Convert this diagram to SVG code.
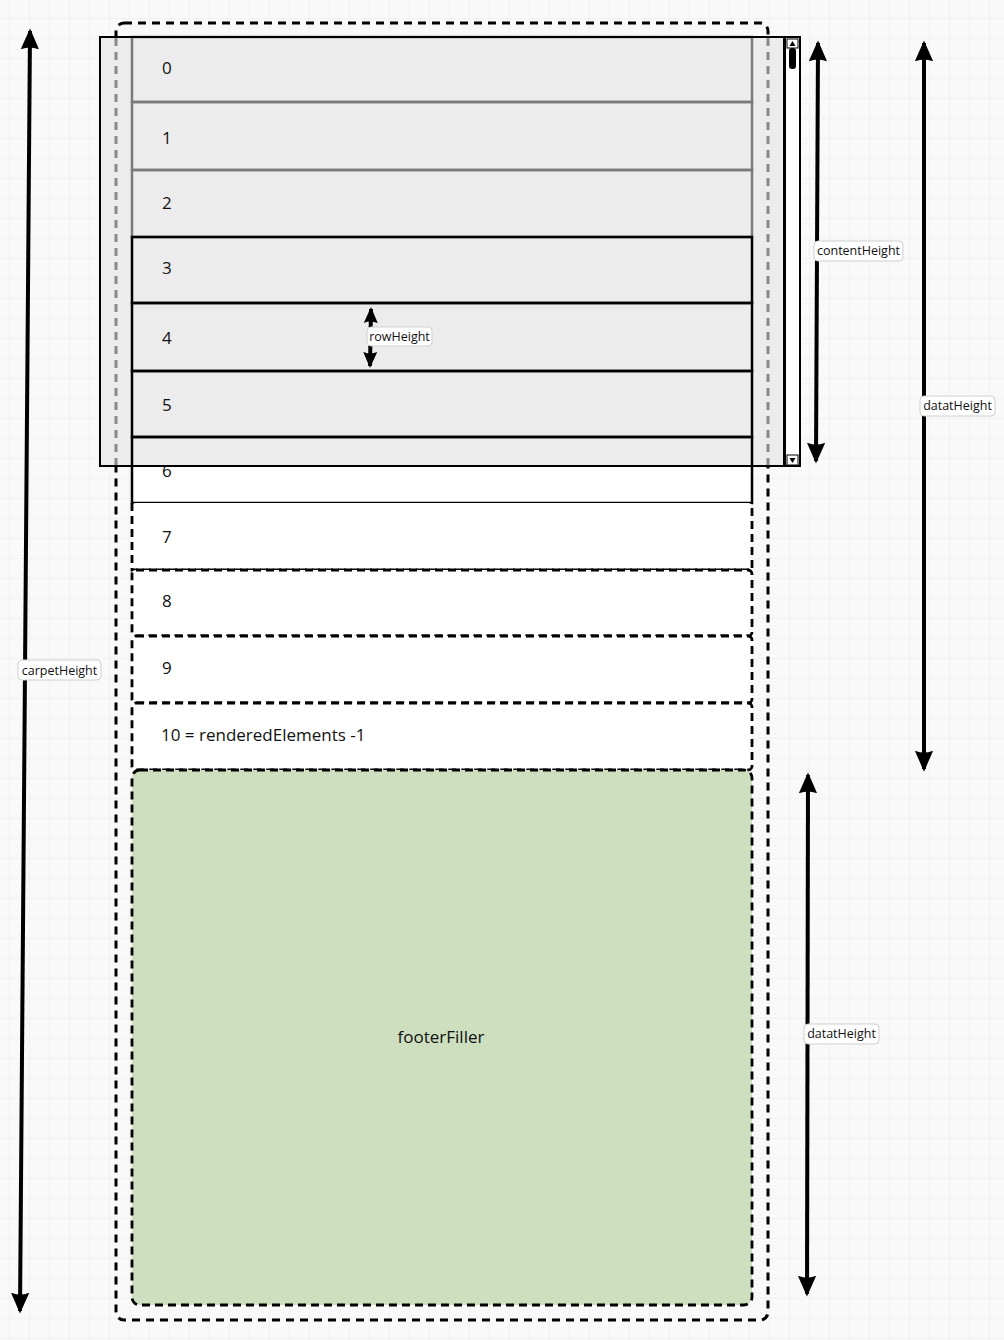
<svg xmlns="http://www.w3.org/2000/svg" width="1004" height="1340" viewBox="0 0 1004 1340">
<defs>
<pattern id="grid" x="9" y="18" width="20" height="20" patternUnits="userSpaceOnUse">
<path d="M0,0 H20 M0,0 V20" fill="none" stroke="#ececec" stroke-width="1.2"/>
</pattern>
<marker id="ah" viewBox="0 0 16 16" refX="14" refY="8" markerWidth="21" markerHeight="21" markerUnits="userSpaceOnUse" orient="auto-start-reverse">
<path d="M0,1 L16,8 L0,15 Q3,8 0,1 Z" fill="#000"/>
</marker>
<marker id="ahs" viewBox="0 0 16 16" refX="14" refY="8" markerWidth="16" markerHeight="16" markerUnits="userSpaceOnUse" orient="auto-start-reverse">
<path d="M0,1 L16,8 L0,15 Q3,8 0,1 Z" fill="#000"/>
</marker>
</defs>
<style>
.num{font-family:"Open Sans","Liberation Sans",sans-serif;font-size:17px;fill:#111}
.lbl{font-family:"Open Sans","Liberation Sans",sans-serif;font-size:12.5px;fill:#111}
.lbox{fill:#fff;stroke:#cfcfcf;stroke-width:1}
.rowg{fill:none;stroke:#7a7a7a;stroke-width:2.5}
.rowk{fill:none;stroke:#000;stroke-width:2.5}
.rowd{stroke:#000;stroke-width:2.8;stroke-dasharray:8 5}
.arr{stroke:#000;stroke-width:4;fill:none}
</style>
<rect width="1004" height="1340" fill="#f9f9f9"/>
<rect width="1004" height="1340" fill="url(#grid)"/>

<g id="carpet">
<rect x="116" y="23" width="652" height="1297" rx="8" fill="none" stroke="#000" stroke-width="3" stroke-dasharray="8 6"/>
</g>

<g id="viewport">
<rect x="100" y="37" width="684" height="429" fill="#ececec"/>
<line x1="116" y1="38" x2="116" y2="465" stroke="#8a8a8a" stroke-width="3" stroke-dasharray="8 6"/>
<line x1="768" y1="38" x2="768" y2="465" stroke="#8a8a8a" stroke-width="3" stroke-dasharray="8 6"/>
</g>

<g id="row0"><rect x="132" y="37" width="620" height="65" class="rowg"/><text x="162" y="74" class="num">0</text></g>
<g id="row1"><rect x="132" y="102" width="620" height="68" class="rowg"/><text x="162" y="144" class="num">1</text></g>
<g id="row2"><rect x="132" y="170" width="620" height="67" class="rowg"/><text x="162" y="209" class="num">2</text></g>
<g id="row3"><rect x="132" y="237" width="620" height="66" class="rowk"/><text x="162" y="274" class="num">3</text></g>
<g id="row4"><rect x="132" y="303" width="620" height="68" class="rowk"/><text x="162" y="344" class="num">4</text></g>
<g id="row5"><rect x="132" y="371" width="620" height="66" class="rowk"/><text x="162" y="411" class="num">5</text></g>
<g id="row6"><rect x="132" y="466" width="620" height="37" fill="#fff"/><rect x="132" y="437" width="620" height="66" class="rowk"/><text x="162" y="477" class="num">6</text></g>
<g id="row7"><rect x="132" y="503" width="620" height="67" rx="4" fill="#fff"/><path d="M132,503 V570 H752 V503" class="rowd" fill="none"/><text x="162" y="543" class="num">7</text></g>
<g id="row8"><rect x="132" y="570" width="620" height="66" rx="4" class="rowd" style="fill:#fff"/><text x="162" y="607" class="num">8</text></g>
<g id="row9"><rect x="132" y="636" width="620" height="67" rx="4" class="rowd" style="fill:#fff"/><text x="162" y="674" class="num">9</text></g>
<g id="row10"><rect x="132" y="703" width="620" height="67" rx="4" class="rowd" style="fill:#fff"/><text x="161" y="741" class="num">10 = renderedElements -1</text></g>
<g id="footerFiller"><rect x="132" y="770" width="620" height="535" rx="8" class="rowd" style="fill:#cddfbf"/><text x="441" y="1043" class="num" text-anchor="middle">footerFiller</text></g>

<g id="viewportBorder">
<rect x="100" y="37" width="684" height="429" fill="none" stroke="#000" stroke-width="2"/>
</g>

<g id="scrollbar">
<rect x="785" y="37" width="15" height="429" fill="#fff" stroke="#000" stroke-width="2"/>
<rect x="787" y="39" width="11" height="9" fill="#fff" stroke="#000" stroke-width="1"/>
<path d="M789.5,46 L792.5,41 L795.5,46 Z" fill="#000"/>
<rect x="789" y="48" width="7" height="21" rx="3" fill="#000"/>
<rect x="787" y="455" width="11" height="10" fill="#fff" stroke="#000" stroke-width="1"/>
<path d="M789.5,458 L795.5,458 L792.5,463 Z" fill="#000"/>
</g>

<g id="connectors">
<line x1="30" y1="31" x2="20" y2="1311" class="arr" marker-start="url(#ah)" marker-end="url(#ah)"/>
<line x1="818" y1="43" x2="816" y2="461" class="arr" marker-start="url(#ah)" marker-end="url(#ah)"/>
<line x1="924" y1="43" x2="924" y2="769" class="arr" marker-start="url(#ah)" marker-end="url(#ah)"/>
<line x1="808" y1="775" x2="807" y2="1294" class="arr" marker-start="url(#ah)" marker-end="url(#ah)"/>
<line x1="371" y1="309" x2="370" y2="366" class="arr" stroke-width="3.5" marker-start="url(#ahs)" marker-end="url(#ahs)"/>
</g>

<g id="labels">
<rect x="18" y="660" width="83" height="20" rx="4" class="lbox"/><text x="59.5" y="675" class="lbl" text-anchor="middle">carpetHeight</text>
<rect x="814" y="241" width="89" height="20" rx="4" class="lbox"/><text x="858.5" y="255" class="lbl" text-anchor="middle">contentHeight</text>
<rect x="920" y="396" width="75" height="20" rx="4" class="lbox"/><text x="957.5" y="410" class="lbl" text-anchor="middle">datatHeight</text>
<rect x="804" y="1024" width="75" height="20" rx="4" class="lbox"/><text x="841.5" y="1038" class="lbl" text-anchor="middle">datatHeight</text>
<rect x="367" y="327" width="65" height="19" rx="4" class="lbox"/><text x="399.5" y="341" class="lbl" text-anchor="middle">rowHeight</text>
</g>
</svg>
